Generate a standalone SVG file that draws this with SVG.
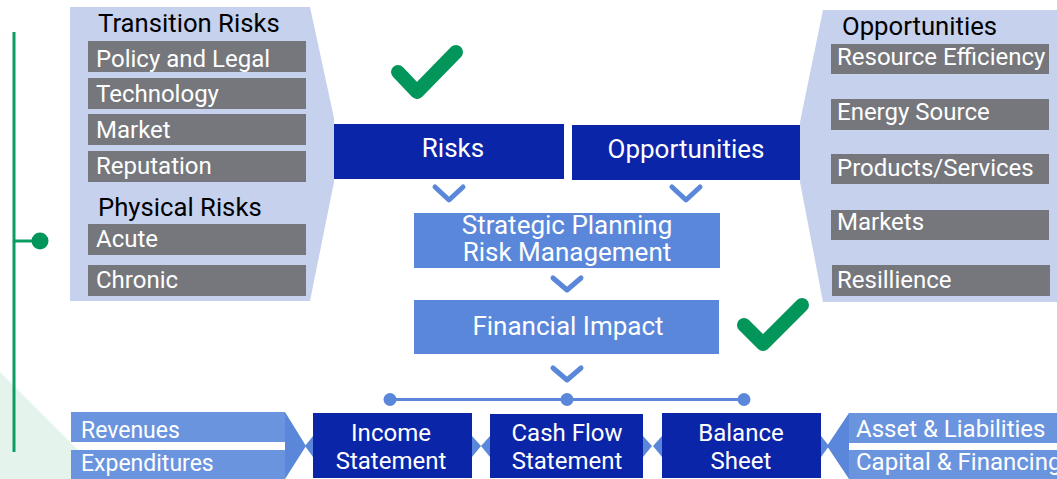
<svg xmlns="http://www.w3.org/2000/svg" width="1057" height="479" viewBox="0 0 1057 479">
<style>
text{font-family:Roboto,"Liberation Sans",sans-serif}
.panel{fill:#c6d1ee}
.gray{fill:#75777c}
.gt{fill:#ffffff;font-size:24px}
.title{fill:#000000;font-size:25.7px}
.dark{fill:#0b25a9}
.mid{fill:#5a87da}
.bar{fill:#6b94de}
.tri{fill:#5a87da}
.wt{fill:#ffffff;font-size:26px;text-anchor:middle}
.bt{fill:#ffffff;font-size:24px;text-anchor:middle}
.lt{fill:#ffffff;font-size:23px}
.chev{fill:none;stroke:#5a87da;stroke-width:5;stroke-linecap:round;stroke-linejoin:round}
.check{fill:none;stroke:#03965a;stroke-width:14;stroke-linecap:round;stroke-linejoin:round}
</style>
<rect width="1057" height="479" fill="#ffffff"/>
<polygon points="0,372 107,479 0,479" fill="#e4f4ed"/>
<g id="timeline">
<line x1="14" y1="32" x2="14" y2="452" stroke="#0b9d62" stroke-width="3"/>
<line x1="14" y1="241" x2="40" y2="241" stroke="#0b9d62" stroke-width="3"/>
<circle cx="40" cy="241" r="8.5" fill="#03965a"/>
</g>
<g id="transition-panel">
<polygon class="panel" points="70,7 310,7 334,118 334,182 310,301 70,301"/>
<text class="title" x="98" y="32">Transition Risks</text>
<rect class="gray" x="88" y="41" width="218" height="31"/>
<text class="gt" x="96" y="67">Policy and Legal</text>
<rect class="gray" x="88" y="78" width="218" height="31"/>
<text class="gt" x="96" y="102">Technology</text>
<rect class="gray" x="88" y="114" width="218" height="31"/>
<text class="gt" x="96" y="138">Market</text>
<rect class="gray" x="88" y="151" width="218" height="31"/>
<text class="gt" x="96" y="174">Reputation</text>
<text class="title" x="98" y="216">Physical Risks</text>
<rect class="gray" x="88" y="224" width="218" height="31"/>
<text class="gt" x="96" y="247">Acute</text>
<rect class="gray" x="88" y="265" width="218" height="31"/>
<text class="gt" x="96" y="288">Chronic</text>
</g>
<g id="opportunities-panel">
<polygon class="panel" points="823,10 1057,10 1057,302 823,302 800,182 800,122"/>
<text class="title" x="842" y="35">Opportunities</text>
<rect class="gray" x="831" y="44" width="218" height="30"/>
<text class="gt" x="837" y="65">Resource Efficiency</text>
<rect class="gray" x="831" y="99" width="218" height="31"/>
<text class="gt" x="837" y="120">Energy Source</text>
<rect class="gray" x="831" y="154" width="218" height="30"/>
<text class="gt" x="837" y="176">Products/Services</text>
<rect class="gray" x="831" y="210" width="218" height="30"/>
<text class="gt" x="837" y="230">Markets</text>
<rect class="gray" x="832" y="265" width="218" height="31"/>
<text class="gt" x="837" y="288">Resillience</text>
</g>
<g id="risks">
<rect class="dark" x="334" y="124" width="230" height="55"/>
<text class="wt" x="453" y="157">Risks</text>
</g>
<g id="opportunities">
<rect class="dark" x="572" y="125" width="228" height="55"/>
<text class="wt" x="686" y="158">Opportunities</text>
</g>
<g id="strategic">
<rect class="mid" x="414" y="213" width="306" height="55"/>
<text class="wt" x="567" y="234">Strategic Planning</text>
<text class="wt" x="567" y="261">Risk Management</text>
</g>
<g id="financial-impact">
<rect class="mid" x="414" y="300" width="305" height="54"/>
<text class="wt" x="568" y="335">Financial Impact</text>
</g>
<g id="checks">
<polyline class="check" points="398,72 417,92 456,52"/>
<polyline class="check" points="744,325 763,344 802,305"/>
</g>
<g id="connectors">
<polyline class="chev" points="435,187 449,200 463,187"/>
<polyline class="chev" points="672,187 686,200 700,187"/>
<polyline class="chev" points="553,278 567,290 581,278"/>
<polyline class="chev" points="553,368 567,380 581,368"/>
<line x1="390" y1="399.5" x2="744" y2="399.5" stroke="#5a87da" stroke-width="3"/>
<circle cx="390" cy="399.5" r="6.5" fill="#5a87da"/>
<circle cx="567" cy="399.5" r="6.5" fill="#5a87da"/>
<circle cx="744" cy="399.5" r="6.5" fill="#5a87da"/>
<polygon class="tri" points="313,436 305,446 313,457"/>
<polygon class="tri" points="472,436 481,446 472,457"/>
<polygon class="tri" points="490,436 481,446 490,457"/>
<polygon class="tri" points="643,436 652,446 643,457"/>
<polygon class="tri" points="662,436 653,446 662,457"/>
<polygon class="tri" points="821,436 829,446 821,457"/>
</g>
<g id="income-flows">
<rect class="bar" x="71" y="412" width="214" height="30"/>
<rect class="bar" x="71" y="450" width="214" height="29"/>
<polygon class="tri" points="285,412 306,446 285,479"/>
<text class="lt" x="81" y="438">Revenues</text>
<text class="lt" x="81" y="471">Expenditures</text>
</g>
<g id="income-statement">
<rect class="dark" x="313" y="413" width="159" height="65"/>
<text class="bt" x="391" y="441">Income</text>
<text class="bt" x="391" y="469">Statement</text>
</g>
<g id="cash-flow">
<rect class="dark" x="490" y="414" width="153" height="64"/>
<text class="bt" x="567" y="441">Cash Flow</text>
<text class="bt" x="567" y="469">Statement</text>
</g>
<g id="balance-sheet">
<rect class="dark" x="662" y="413" width="159" height="65"/>
<text class="bt" x="741" y="441">Balance</text>
<text class="bt" x="741" y="469">Sheet</text>
</g>
<g id="balance-flows">
<rect class="bar" x="849" y="413" width="208" height="30"/>
<rect class="bar" x="849" y="450" width="208" height="29"/>
<polygon class="tri" points="849,413 827,446 849,479"/>
<text class="gt" x="856" y="437">Asset &amp; Liabilities</text>
<text class="gt" x="856" y="470">Capital &amp; Financing</text>
</g>
</svg>
